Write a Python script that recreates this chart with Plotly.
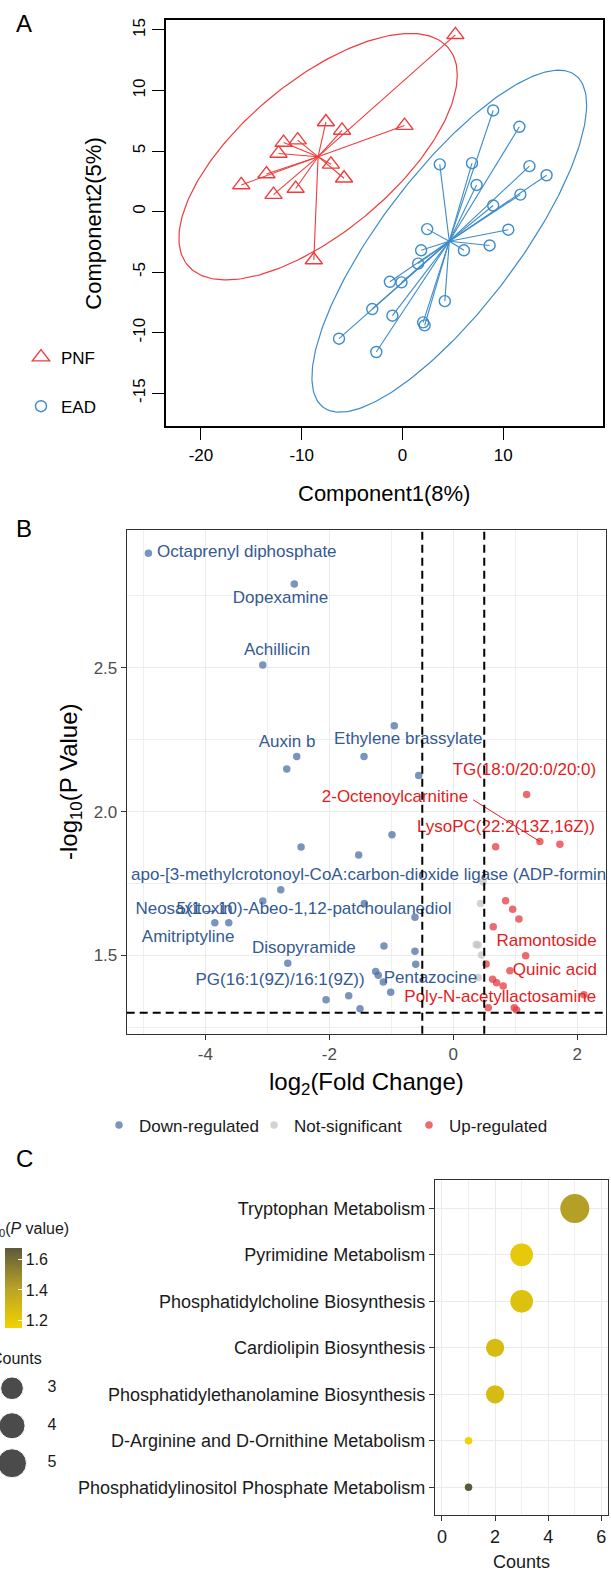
import numpy as np
import plotly.graph_objects as go

W, H = 611, 1573
FONT = "Liberation Sans, Arial, Helvetica, sans-serif"


def px_x(p):
    return p / W


def px_y(p):
    return 1 - p / H


# ---------------- Panel A data (PLS-DA scores) ----------------
pnf_x = [-7.6, -6.0, -11.8, -10.4, -12.3, -7.1, -13.5, -5.8, -16.0, -10.6, -12.8, -8.8, 0.2, 5.25]
pnf_y = [7.4, 6.7, 5.7, 5.9, 4.8, 3.9, 3.1, 2.75, 2.2, 1.9, 1.4, -4.0, 7.1, 14.6]
ead_x = [9.0, 11.6, 3.7, 6.9, 12.6, 14.3, 7.35, 11.7, 9.0, 10.5, 2.45, 8.65, 1.85, 6.1,
         1.55, -1.25, -0.1, 4.2, -3.0, -1.0, 2.05, 2.2, -6.3, -2.6]
ead_y = [8.35, 7.0, 3.9, 4.0, 3.75, 3.0, 2.2, 1.4, 0.5, -1.5, -1.45, -2.8, -3.2, -3.2,
         -4.3, -5.8, -5.85, -7.4, -8.05, -8.6, -9.15, -9.4, -10.5, -11.6]
a_xticks = [-20, -10, 0, 10]
a_yticks = [-15, -10, -5, 0, 5, 10, 15]

# ---------------- Panel B data (volcano) ----------------
fc = [-4.92, -2.565, -3.074, -0.952, -2.526, -2.687, -1.44, -0.558, -0.989, -2.456,
      -1.526, -2.784, -3.074, -1.435, -0.618, -3.848, -3.623, -1.118, -0.618, -2.671,
      -0.606, -1.252, -1.21, -1.129, -1.01, -1.687, -2.053, -1.505,
      0.48, 0.441, 0.371, 0.40, 0.458, 0.403,
      1.184, 1.398, 1.721, 0.684, 0.845, 0.958, 1.06, 0.645, 1.168, 0.53,
      0.914, 0.635, 0.70, 0.806, 0.565, 0.984, 1.022, 2.108]
nlp = [2.898, 2.791, 2.510, 2.299, 2.192, 2.148, 2.192, 2.126, 1.920, 1.877,
       1.849, 1.728, 1.689, 1.681, 1.633, 1.614, 1.614, 1.533, 1.515, 1.473,
       1.469, 1.444, 1.431, 1.408, 1.372, 1.360, 1.346, 1.315,
       1.755, 1.681, 1.538, 1.536, 1.502, 1.423,
       2.060, 1.896, 1.887, 1.878, 1.690, 1.661, 1.627, 1.600, 1.499, 1.470,
       1.447, 1.417, 1.405, 1.394, 1.318, 1.318, 1.310, 1.363]
fc_cut = 0.5
p_cut = -np.log10(0.05)

lab_text = ["Octaprenyl diphosphate", "Dopexamine", "Achillicin", "Auxin b",
            "Ethylene brassylate",
            "apo-[3-methylcrotonoyl-CoA:carbon-dioxide ligase (ADP-forming)]",
            "Neosaxitoxin", "5(1→10)-Abeo-1,12-patchoulanediol", "Amitriptyline",
            "Disopyramide", "PG(16:1(9Z)/16:1(9Z))", "Pentazocine",
            "TG(18:0/20:0/20:0)", "2-Octenoylcarnitine", "LysoPC(22:2(13Z,16Z))",
            "Ramontoside", "Quinic acid", "Poly-N-acetyllactosamine"]
lab_group = ["Down"] * 12 + ["Up"] * 6
# label placement (repelled positions, in data units)
lab_x = [-3.332, -2.787, -2.844, -2.682, -0.726, -5.20, -4.344, -2.247, -4.279,
         -2.411, -2.795, -0.368, 1.148, -0.940, 0.850, 1.506, 1.640, 0.758]
lab_y = [2.899, 2.739, 2.559, 2.241, 2.249, 1.776, 1.660, 1.660, 1.560,
         1.523, 1.412, 1.419, 2.143, 2.047, 1.944, 1.548, 1.447, 1.352]
lab_pos = ["middle center"] * 18
lab_pos[5] = "middle right"
seg_from = (0.322, 2.041)   # label end of 2-Octenoylcarnitine
seg_point = 35               # index of the point it points to
b_xticks = [-4, -2, 0, 2]
b_yticks = [1.5, 2.0, 2.5]

# ---------------- Panel C data (pathway enrichment) ----------------
pathways = ["Tryptophan Metabolism", "Pyrimidine Metabolism",
            "Phosphatidylcholine Biosynthesis", "Cardiolipin Biosynthesis",
            "Phosphatidylethanolamine Biosynthesis",
            "D-Arginine and D-Ornithine Metabolism",
            "Phosphatidylinositol Phosphate Metabolism"]
counts = [5, 3, 3, 2, 2, 1, 1]
neglogp = [1.42, 1.20, 1.24, 1.27, 1.27, 1.148, 1.672]
size_legend_counts = [3, 4, 5]
c_xticks = [0, 2, 4, 6]
cbar_ticks = [1.2, 1.4, 1.6]

RED_A = "#F03C3C"
BLUE_A = "#3C8BCB"
COL_DOWN = "#4D71A6"
COL_NS = "#C4C4C4"
COL_UP = "#E53A3F"
LAB_DOWN = "#345A92"
LAB_UP = "#E21C22"


def conf_ellipse(x, y, t=np.sqrt(5.991), n=240):
    pts = np.vstack([x, y])
    mu = pts.mean(axis=1)
    L = np.linalg.cholesky(np.cov(pts))
    th = np.linspace(0, 2 * np.pi, n)
    e = mu[:, None] + t * L @ np.vstack([np.cos(th), np.sin(th)])
    return e[0], e[1]


def spider(x, y):
    cx, cy = float(np.mean(x)), float(np.mean(y))
    xs, ys = [], []
    for a, b in zip(x, y):
        xs += [cx, a, None]
        ys += [cy, b, None]
    return xs, ys


def size_map(c):
    c = np.asarray(c, dtype=float)
    return 7.5 + 21.5 * np.sqrt((c - 1) / 4.0)


fig = go.Figure()

# ---- Panel A traces
for gx, gy, col, name, sym, sz in [(pnf_x, pnf_y, RED_A, "PNF", "triangle-up-open", 15),
                                   (ead_x, ead_y, BLUE_A, "EAD", "circle-open", 11)]:
    ex, ey = conf_ellipse(gx, gy)
    fig.add_trace(go.Scatter(x=ex, y=ey, mode="lines", line=dict(color=col, width=1.2),
                             showlegend=False, hoverinfo="skip", xaxis="x", yaxis="y"))
    sx, sy = spider(gx, gy)
    fig.add_trace(go.Scatter(x=sx, y=sy, mode="lines", line=dict(color=col, width=1.1),
                             showlegend=False, hoverinfo="skip", xaxis="x", yaxis="y"))
    fig.add_trace(go.Scatter(x=gx, y=gy, mode="markers", name=name, legend="legend",
                             legendgroup=name,
                             marker=dict(symbol=sym, size=sz, color=col, line=dict(width=1.4, color=col)),
                             xaxis="x", yaxis="y"))

# ---- Panel B traces
fc_a = np.array(fc)
nlp_a = np.array(nlp)
grp = np.where((fc_a > fc_cut) & (nlp_a > p_cut), "Up",
               np.where((fc_a < -fc_cut) & (nlp_a > p_cut), "Down", "NS"))
for g, col, name in [("Down", COL_DOWN, "Down-regulated"), ("NS", COL_NS, "Not-significant"),
                     ("Up", COL_UP, "Up-regulated")]:
    m = grp == g
    fig.add_trace(go.Scatter(x=fc_a[m], y=nlp_a[m], mode="markers", name=name, legend="legend2",
                             marker=dict(size=7.5, color=col, opacity=0.75),
                             xaxis="x2", yaxis="y2"))

fig.add_trace(go.Scatter(x=[seg_from[0], fc[seg_point]], y=[seg_from[1], nlp[seg_point]],
                         mode="lines", line=dict(color=LAB_UP, width=1), showlegend=False,
                         hoverinfo="skip", xaxis="x2", yaxis="y2"))
fig.add_trace(go.Scatter(x=lab_x, y=lab_y, mode="text", text=lab_text, textposition=lab_pos,
                         textfont=dict(family=FONT, size=17,
                                       color=[LAB_DOWN if g == "Down" else LAB_UP for g in lab_group]),
                         cliponaxis=True, showlegend=False, hoverinfo="skip",
                         xaxis="x2", yaxis="y2"))

for xv in (-fc_cut, fc_cut):
    fig.add_shape(type="line", xref="x2", yref="y2 domain", x0=xv, x1=xv, y0=0, y1=1,
                  line=dict(color="black", width=2, dash="8px,5px"))
fig.add_shape(type="line", xref="x2 domain", yref="y2", x0=0, x1=1, y0=p_cut, y1=p_cut,
              line=dict(color="black", width=2, dash="8px,5px"))

# ---- Panel C traces
cscale = [[0, "#F1D300"], [0.5, "#B8A226"], [1, "#5B5A3B"]]
fig.add_trace(go.Scatter(x=counts, y=pathways, mode="markers", showlegend=False,
                         marker=dict(size=size_map(counts), color=neglogp, colorscale=cscale,
                                     cmin=min(neglogp), cmax=max(neglogp), opacity=1,
                                     line=dict(width=0),
                                     showscale=True,
                                     colorbar=dict(x=px_x(5), xanchor="left", xpad=0, ypad=0,
                                                   y=px_y(1288), yanchor="middle",
                                                   lenmode="pixels", len=80, thickness=17,
                                                   outlinewidth=0, tickvals=cbar_ticks,
                                                   ticktext=[f"{v:.1f}" for v in cbar_ticks],
                                                   ticks="inside", ticklen=4, tickcolor="white",
                                                   tickfont=dict(family=FONT, size=16, color="#1A1A1A"))),
                         xaxis="x3", yaxis="y3"))

# size legend
fig.add_trace(go.Scatter(x=[0] * len(size_legend_counts), y=size_legend_counts, mode="markers",
                         marker=dict(size=size_map(size_legend_counts), color="black"),
                         showlegend=False, cliponaxis=False, hoverinfo="skip",
                         xaxis="x4", yaxis="y4"))
fig.add_trace(go.Scatter(x=[1] * len(size_legend_counts), y=size_legend_counts, mode="text",
                         text=[str(c) for c in size_legend_counts], textposition="middle center",
                         textfont=dict(family=FONT, size=16, color="#1A1A1A"),
                         showlegend=False, cliponaxis=False, hoverinfo="skip",
                         xaxis="x4", yaxis="y4"))

# ---------------- Layout ----------------
tf_black = dict(family=FONT, size=17, color="black")
tf_grey = dict(family=FONT, size=17, color="#4D4D4D")

ax_a = dict(showline=True, mirror=True, linecolor="black", linewidth=1.5, ticks="outside",
            ticklen=12, tickwidth=1.3, tickcolor="black", showgrid=False, zeroline=False,
            tickfont=tf_black)
ax_gg = dict(showline=True, mirror=True, linecolor="#333333", linewidth=1, ticks="outside",
             ticklen=5, tickwidth=1, tickcolor="#333333", showgrid=True, gridcolor="#EBEBEB",
             gridwidth=1.1, zeroline=False)

fig.update_layout(
    width=W, height=H, autosize=False,
    margin=dict(l=0, r=0, t=0, b=0),
    paper_bgcolor="white", plot_bgcolor="white",
    font=dict(family=FONT, color="black"),
    xaxis=dict(domain=[px_x(165.7), px_x(603)], range=[-23.5, 19.9], tickvals=a_xticks,
               ticktext=[str(v) for v in a_xticks], anchor="y", **ax_a),
    yaxis=dict(domain=[px_y(425), px_y(18.3)], range=[-17.75, 15.8], tickvals=a_yticks,
               ticktext=[str(v) for v in a_yticks], tickangle=-90, anchor="x", **ax_a),
    xaxis2=dict(domain=[px_x(126.7), px_x(605.7)], range=[-5.27, 2.46], tickvals=b_xticks,
                ticktext=[str(v) for v in b_xticks], tickfont=tf_grey, anchor="y2",
                minor=dict(tickvals=[-5, -3, -1, 1], showgrid=True, gridcolor="#EFEFEF",
                           gridwidth=0.6, ticks=""),
                **ax_gg),
    yaxis2=dict(domain=[px_y(1033), px_y(529)], range=[1.228, 2.978], tickvals=b_yticks,
                ticktext=[f"{v:.1f}" for v in b_yticks], tickfont=tf_grey, anchor="x2",
                minor=dict(tickvals=[1.25, 1.75, 2.25, 2.75], showgrid=True, gridcolor="#EFEFEF",
                           gridwidth=0.6, ticks=""),
                **ax_gg),
    xaxis3=dict(domain=[px_x(434.8), px_x(608)], range=[-0.27, 6.25], tickvals=c_xticks,
                ticktext=[str(v) for v in c_xticks],
                tickfont=dict(family=FONT, size=18, color="#1A1A1A"), anchor="y3",
                minor=dict(tickvals=[1, 3, 5], showgrid=True, gridcolor="#EFEFEF",
                           gridwidth=0.6, ticks=""),
                **ax_gg),
    yaxis3=dict(domain=[px_y(1515), px_y(1180)], type="category", categoryorder="array",
                categoryarray=list(reversed(pathways)), range=[-0.6, len(pathways) - 0.4],
                tickfont=dict(family=FONT, size=18, color="#1A1A1A"), anchor="x3",
                **ax_gg),
    xaxis4=dict(domain=[0, px_x(61)], range=[-0.3, 1.225], visible=False, anchor="y4"),
    yaxis4=dict(domain=[px_y(1480), px_y(1370)], range=[5.45, 2.52], visible=False, anchor="x4"),
    legend=dict(x=px_x(21), y=px_y(338), xanchor="left", yanchor="top",
                font=dict(family=FONT, size=17, color="black"), bgcolor="rgba(0,0,0,0)",
                tracegroupgap=24, itemsizing="trace"),
    legend2=dict(orientation="h", x=px_x(99), y=px_y(1125), xanchor="left", yanchor="middle",
                 entrywidth=110, entrywidthmode="pixels",
                 font=dict(family=FONT, size=17, color="#1A1A1A"), bgcolor="rgba(0,0,0,0)",
                 itemsizing="trace"),
)


def ann(text, x, y, size, xanchor="center", angle=0, color="black"):
    fig.add_annotation(text=text, x=px_x(x), y=px_y(y), xref="paper", yref="paper",
                       xanchor=xanchor, yanchor="middle", showarrow=False, textangle=angle,
                       font=dict(family=FONT, size=size, color=color))


ann("A", 24, 22, 24)
ann("B", 24, 527, 24)
ann("C", 24, 1158, 24)
ann("Component1(8%)", 384, 492, 22)
ann("Component2(5%)", 94, 222, 22, angle=-90)
ann("log<sub>2</sub>(Fold Change)", 366, 1083, 24)
ann("-log<sub>10</sub>(P Value)", 70, 781, 24, angle=-90)
ann("Counts", 521, 1562, 18, color="#1A1A1A")
ann("-log<sub>10</sub>(<i>P</i> value)", 71, 1229, 16, xanchor="right", color="#1A1A1A")
ann("Counts", 44, 1358, 16, xanchor="right", color="#1A1A1A")

fig.write_html("out.html", config={"displayModeBar": False},
               post_script="document.body.style.margin='0';document.body.style.overflow='hidden';")
